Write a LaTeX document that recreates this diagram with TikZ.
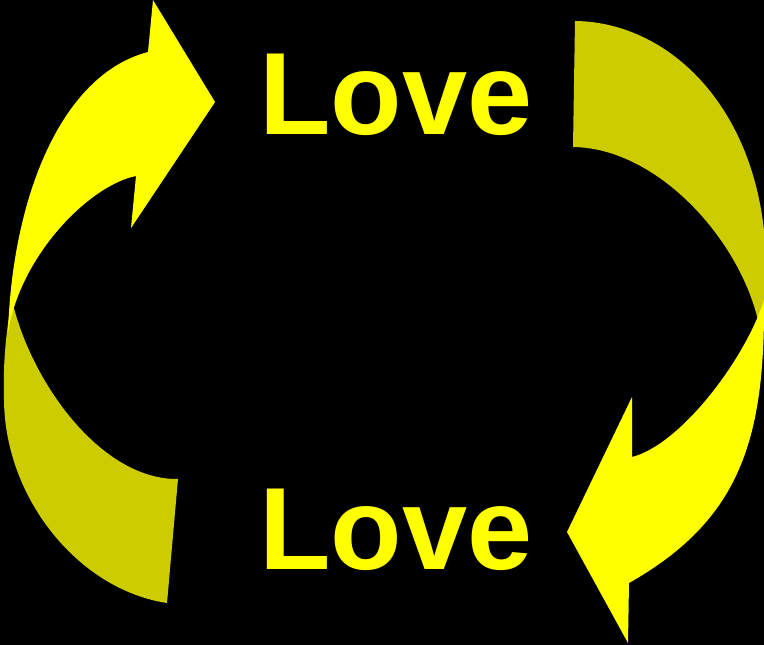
\documentclass[tikz,border=0pt]{standalone}
\usepackage{fontspec}
\setmainfont{Liberation Sans}
\definecolor{brightY}{HTML}{FFFF00}
\definecolor{darkY}{HTML}{CCCC00}
\begin{document}
\begin{tikzpicture}[x=1pt,y=-1pt,
  lovetext/.style={text=brightY, font=\fontsize{117}{117}\selectfont\bfseries, inner sep=0pt, anchor=base},
  backface/.style={fill=darkY},
  frontface/.style={fill=brightY}]
\fill[black] (0,0) rectangle (764,645);
\useasboundingbox (0,0) rectangle (764,645);
% left arrow, back part
\path[backface] (12,300) .. controls (5,335) and (3,370) .. (4,400)
  .. controls (5,500) and (80,590) .. (167,603)
  -- (178,479) .. controls (100,480) and (30,380) .. (12,300) -- cycle;
% left arrow, front part
\path[frontface] (8,333) .. controls (12,200) and (60,75) .. (148,52)
  -- (153,0) -- (215,102) -- (131,228) -- (136,176)
  .. controls (90,185) and (20,255) .. (8,333) -- cycle;
% right arrow, back part
\path[backface] (575,21) .. controls (670,22) and (762,110) .. (766,260)
  .. controls (767,290) and (765,305) .. (762,325)
  -- (760,330) .. controls (745,245) and (660,148) .. (573,147) -- cycle;
% right arrow, front part
\path[frontface] (764,300) .. controls (765,440) and (740,520) .. (629,583)
  -- (628,643) -- (567,532) -- (632,397) -- (632,457)
  .. controls (680,445) and (745,360) .. (764,300) -- cycle;
% texts
\node[lovetext] (love1) at (396,134) {Love};
\node[lovetext] (love2) at (396,569) {Love};
\end{tikzpicture}
\end{document}
